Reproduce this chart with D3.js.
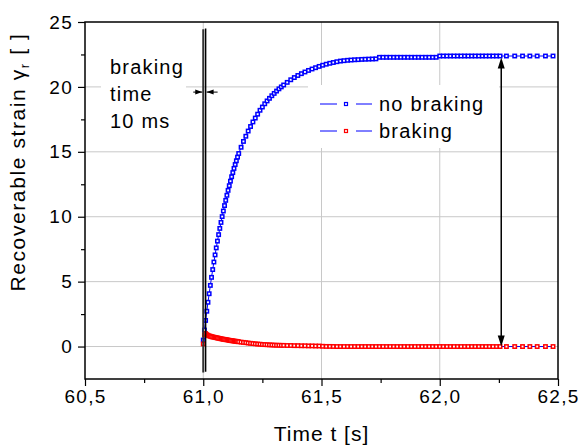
<!DOCTYPE html>
<html>
<head>
<meta charset="utf-8">
<script src="https://cdn.jsdelivr.net/npm/d3@7"></script>
<style>
  body { margin: 0; background: #fff; }
  svg text { font-family: "Liberation Sans", Arial, sans-serif; fill: #000; }
</style>
</head>
<body>
<script>
// sample times [s]
const times = [
  61.000,61.005,61.010,61.015,61.020,61.025,61.030,61.035,61.040,61.045,61.050,61.055,61.060,61.065,61.070,61.075,
  61.080,61.085,61.090,61.095,61.100,61.105,61.110,61.115,61.120,61.125,61.130,61.135,61.140,61.145,61.150,
  61.16,61.17,61.18,61.19,61.20,61.21,61.22,61.23,61.24,61.25,61.26,61.27,61.28,61.29,61.30,61.31,61.32,61.33,61.34,
  61.355,61.370,61.385,61.400,61.415,61.430,61.445,61.460,61.475,61.490,61.505,61.520,61.535,61.550,61.565,61.580,
  61.595,61.610,61.625,61.640,61.655,61.670,61.685,61.700,61.715,61.730,
  61.745,61.760,61.775,61.790,61.805,61.820,61.835,61.850,61.865,61.880,61.895,61.910,61.925,61.940,61.955,61.970,61.985,
  62.000,62.015,62.030,62.045,62.060,62.075,62.090,62.105,62.120,62.135,62.150,62.165,62.180,62.195,62.210,62.225,62.240,62.255,
  62.282,62.317,62.350,62.381,62.412,62.447,62.479
];
// recoverable strain, no braking
const noBraking = [
  0.5,1.27,2.01,2.72,3.41,4.07,4.71,5.33,5.93,6.51,7.06,7.60,8.12,8.62,9.10,9.56,
  10.01,10.44,10.86,11.26,11.65,12.03,12.39,12.74,13.08,13.40,13.72,14.02,14.31,14.59,14.87,
  15.35,15.8,16.2,16.6,16.95,17.3,17.6,17.9,18.2,18.45,18.7,18.92,19.12,19.32,19.5,19.68,19.85,20.0,20.15,
  20.35,20.55,20.72,20.88,21.02,21.15,21.27,21.38,21.48,21.58,21.67,21.75,21.82,21.88,21.94,21.99,
  22.02,22.05,22.07,22.09,22.1,22.12,22.13,22.14,22.15,22.16,
  22.28,22.28,22.28,22.28,22.28,22.28,22.28,22.28,22.28,22.28,22.28,22.28,22.28,22.28,22.28,22.28,22.28,
  22.38,22.38,22.38,22.38,22.38,22.38,22.38,22.38,22.38,22.38,22.38,22.38,22.38,22.38,22.38,22.38,22.38,22.38,
  22.38,22.38,22.38,22.38,22.38,22.38,22.38
];
// recoverable strain, braking
const braking = [
  0.2,0.9,1.0,0.92,0.86,0.82,0.79,0.76,0.74,0.72,0.7,0.68,0.66,0.64,0.62,0.6,
  0.58,0.56,0.55,0.53,0.52,0.5,0.48,0.46,0.45,0.44,0.42,0.41,0.4,0.38,0.37,
  0.34,0.32,0.3,0.27,0.25,0.23,0.21,0.19,0.18,0.16,0.15,0.14,0.13,0.12,0.11,0.1,0.1,0.09,0.09,
  0.08,0.08,0.07,0.07,0.06,0.06,0.05,0.05,0.04,0.04,0.02,0.01,0.01,0.005,0,0,
  0,0,0,0,0,0,0,0,0,0,
  0,0,0,0,0,0,0,0,0,0,0,0,0,0,0,0,0,
  0,0,0,0,0,0,0,0,0,0,0,0,0,0,0,0,0,0,
  0,0,0,0,0,0,0
];

const xTicks = [60.5, 61.0, 61.5, 62.0, 62.5];
const xTickLabels = ["60,5", "61,0", "61,5", "62,0", "62,5"];
const xMinor = [60.75, 61.25, 61.75, 62.25];
const yTicks = [0, 5, 10, 15, 20, 25];
const yTickLabels = ["0", "5", "10", "15", "20", "25"];
const yMinor = [2.5, 7.5, 12.5, 17.5, 22.5];

const seriesNames = ["no braking", "braking"];
const markerColors = ["#0000ff", "#ff0000"];
const lineColor = "#0000ff";

// annotations: braking window and the strain difference arrow
const brakeStart = 61.00, brakeEnd = 61.01;
const arrowTime = 62.26, arrowTop = 22.26, arrowBottom = 0;
const noteLines = ["braking", "time", "10 ms"];

const W = 579, H = 446;
const box = {left: 85, right: 558, top: 22, bottom: 379};

const svg = d3.select("body").append("svg")
  .attr("width", W).attr("height", H);

const x = d3.scaleLinear().domain([60.5, 62.5]).range([box.left, box.right]);
const y = d3.scaleLinear().domain([-2.5, 25]).range([box.bottom, box.top]);

// grid
const grid = svg.append("g").attr("stroke", "#c8c8c8").attr("stroke-width", 1);
grid.selectAll(".gx").data(xTicks.slice(1, -1)).enter().append("line")
  .attr("x1", d => x(d)).attr("x2", d => x(d))
  .attr("y1", box.top).attr("y2", box.bottom);
grid.selectAll(".gy").data(yTicks.slice(0, -1)).enter().append("line")
  .attr("x1", box.left).attr("x2", box.right)
  .attr("y1", d => y(d)).attr("y2", d => y(d));

// white backgrounds behind note and legend
svg.append("rect").attr("x", 101).attr("y", 48).attr("width", 85).attr("height", 92).attr("fill", "#fff");
svg.append("rect").attr("x", 308).attr("y", 85).attr("width", 191).attr("height", 63).attr("fill", "#fff");

// series
const data = [noBraking, braking];
const line = d3.line().x(d => x(d[0])).y(d => y(d[1]));

data.forEach(function(vals, k) {
  const pts = times.map((t, i) => [t, vals[i]]);
  svg.append("path")
    .datum(pts)
    .attr("fill", "none")
    .attr("stroke", lineColor)
    .attr("stroke-width", 1)
    .attr("d", line);
  svg.append("g").selectAll("rect").data(pts).enter().append("rect")
    .attr("x", d => x(d[0]) - 1.7)
    .attr("y", d => y(d[1]) - 1.7)
    .attr("width", 3.4).attr("height", 3.4)
    .attr("fill", "#fff")
    .attr("stroke", markerColors[k])
    .attr("stroke-width", 1.5);
});

// braking window lines
svg.append("line")
  .attr("x1", x(brakeStart)).attr("x2", x(brakeStart))
  .attr("y1", y(24.45)).attr("y2", y(-2.0))
  .attr("stroke", "#333").attr("stroke-width", 2);
svg.append("line")
  .attr("x1", x(brakeEnd)).attr("x2", x(brakeEnd))
  .attr("y1", y(24.5)).attr("y2", y(-1.95))
  .attr("stroke", "#000").attr("stroke-width", 1.5);

// small double arrow across the window
const ha = y(19.6);
const hl = x(brakeStart) - 1, hr = x(brakeEnd) + 1;
svg.append("line").attr("x1", hl - 9).attr("x2", hl).attr("y1", ha).attr("y2", ha)
  .attr("stroke", "#000").attr("stroke-width", 1);
svg.append("line").attr("x1", hr).attr("x2", hr + 11).attr("y1", ha).attr("y2", ha)
  .attr("stroke", "#000").attr("stroke-width", 1);
svg.append("path").attr("d", `M${hl},${ha} L${hl - 7},${ha - 2.5} L${hl - 7},${ha + 2.5} Z`).attr("fill", "#000");
svg.append("path").attr("d", `M${hr},${ha} L${hr + 7},${ha - 2.5} L${hr + 7},${ha + 2.5} Z`).attr("fill", "#000");

// vertical double arrow
const ax = x(arrowTime), at = y(arrowTop), ab = y(arrowBottom);
svg.append("line").attr("x1", ax).attr("x2", ax).attr("y1", at + 8).attr("y2", ab - 8)
  .attr("stroke", "#000").attr("stroke-width", 1.5);
svg.append("path").attr("d", `M${ax},${at} L${ax - 3.5},${at + 11} L${ax + 3.5},${at + 11} Z`).attr("fill", "#000");
svg.append("path").attr("d", `M${ax},${ab} L${ax - 3.5},${ab - 11} L${ax + 3.5},${ab - 11} Z`).attr("fill", "#000");

// note text
svg.append("g").selectAll("text").data(noteLines).enter().append("text")
  .attr("x", 110).attr("y", (d, i) => 74 + i * 27)
  .attr("font-size", 20).attr("letter-spacing", 1.2)
  .text(d => d);

// legend
const lg = svg.append("g");
seriesNames.forEach(function(name, i) {
  const ly = 104 + i * 27;
  lg.append("line").attr("x1", 320).attr("x2", 337).attr("y1", ly).attr("y2", ly)
    .attr("stroke", lineColor).attr("stroke-width", 1);
  lg.append("line").attr("x1", 356).attr("x2", 372).attr("y1", ly).attr("y2", ly)
    .attr("stroke", lineColor).attr("stroke-width", 1);
  lg.append("rect").attr("x", 344.5).attr("y", ly - 1.5).attr("width", 3).attr("height", 3)
    .attr("fill", "#fff").attr("stroke", markerColors[i]).attr("stroke-width", 1.2);
  lg.append("text").attr("x", 379).attr("y", ly + 7)
    .attr("font-size", 20).attr("letter-spacing", 1.2).text(name);
});

// frame
svg.append("rect")
  .attr("x", box.left).attr("y", box.top)
  .attr("width", box.right - box.left).attr("height", box.bottom - box.top)
  .attr("fill", "none").attr("stroke", "#000").attr("stroke-width", 1.5);

// axes
const xAxis = d3.axisBottom(x).tickValues(xTicks).tickSize(7).tickSizeOuter(0).tickPadding(4)
  .tickFormat((d, i) => xTickLabels[i]);
svg.append("g").attr("transform", `translate(0,${box.bottom})`).call(xAxis);
svg.append("g").attr("transform", `translate(0,${box.bottom})`)
  .call(d3.axisBottom(x).tickValues(xMinor).tickSize(4).tickSizeOuter(0).tickFormat(""));

const yAxis = d3.axisLeft(y).tickValues(yTicks).tickSize(7).tickSizeOuter(0).tickPadding(5)
  .tickFormat((d, i) => yTickLabels[i]);
svg.append("g").attr("transform", `translate(${box.left},0)`).call(yAxis);
svg.append("g").attr("transform", `translate(${box.left},0)`)
  .call(d3.axisLeft(y).tickValues(yMinor).tickSize(4).tickSizeOuter(0).tickFormat(""));

svg.selectAll(".domain").remove();
svg.selectAll(".tick line").attr("stroke", "#000").attr("stroke-width", 1.2);
svg.selectAll(".tick text")
  .attr("font-family", null)
  .attr("font-size", 19)
  .attr("letter-spacing", 1.3)
  .attr("fill", "#000");

// axis titles
svg.append("text")
  .attr("x", (box.left + box.right) / 2).attr("y", 441)
  .attr("text-anchor", "middle")
  .attr("font-size", 21).attr("letter-spacing", 1)
  .text("Time t [s]");

const yt = svg.append("text")
  .attr("transform", "translate(25,162) rotate(-90)")
  .attr("text-anchor", "middle")
  .attr("font-size", 21).attr("letter-spacing", 1.6);
yt.append("tspan").text("Recoverable strain \u03b3");
yt.append("tspan").attr("font-size", 13).attr("dy", 4).text("r");
yt.append("tspan").attr("dy", -4).text(" [ ]");
</script>
</body>
</html>
